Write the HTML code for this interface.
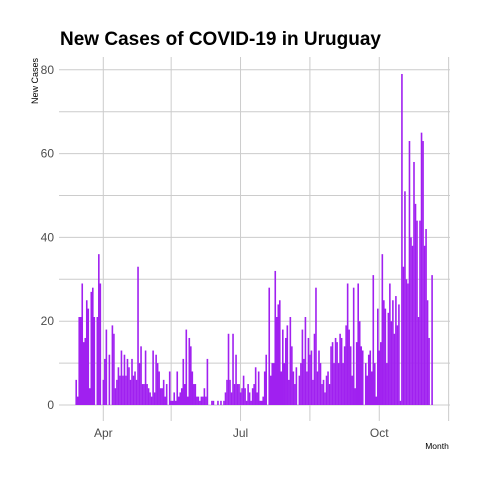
<!DOCTYPE html>
<html><head><meta charset="utf-8"><style>
body{margin:0;background:#fff;}
svg{display:block;font-family:"Liberation Sans",sans-serif;}
</style></head><body>
<svg id="chart" width="480" height="480">
<rect width="480" height="480" fill="#fff"/>
<g id="grid"></g>
<g id="bars"></g>
<g id="axes"></g>
<text x="60" y="45" font-size="19" font-weight="bold" fill="#000">New Cases of COVID-19 in Uruguay</text>
<text transform="translate(38,81) rotate(-90)" text-anchor="middle" font-size="9" fill="#000">New  Cases</text>
<text x="437" y="449" text-anchor="middle" font-size="8.5" fill="#000">Month</text>
</svg>
<script>
const startDay = -18; // days relative to Apr 1
const cases = [6,2,21,21,29,15,16,25,23,4,27,28,21,0,21,36,29,0,6,11,18,0,12,0,19,17,4,6,
9,7,13,7,12,7,11,9,6,11,7,8,6,33,
10,14,5,5,13,5,4,3,2,13,3,12,10,8,4,4,6,2,5,0,8,1,1,3,1,8,2,3,4,11,5,18,2,16,
14,8,5,5,2,2,1,2,2,4,2,11,0,0,1,1,0,0,1,0,1,0,1,3,6,17,6,3,17,5,12,5,5,3,4,7,4,1,5,3,1,4,5,9,3,8,1,1,2,8,12,0,28,7,10,10,32,21,24,25,8,18,10,16,19,6,21,14,8,5,9,0,7,10,
18,11,21,8,16,12,13,6,17,28,8,13,10,5,6,3,7,8,5,14,15,10,16,15,10,17,16,10,14,19,29,18,14,7,28,4,15,29,20,14,13,0,10,7,12,13,8,31,10,2,23,13,15,36,25,23,10,22,29,20,25,17,26,19,24,1,79,33,51,30,29,63,40,38,58,48,44,21,44,65,63,38,42,25,16,0,31];
const yTicks = [0,20,40,60,80];
const yMinor = [10,30,50,70];
const xTickLabels = ["Apr","Jul","Oct"];
const xTickDays = [0,91,183];
const xMinorDays = [-45,45,137,229];

const NS="http://www.w3.org/2000/svg";
function x(day){return 103.3+day*1.508;}
function y(v){return 405-v*4.19;}
function mk(tag,attrs,parent){const e=document.createElementNS(NS,tag);for(const k in attrs)e.setAttribute(k,attrs[k]);parent.appendChild(e);return e;}
const grid=document.getElementById('grid'),bars=document.getElementById('bars'),axes=document.getElementById('axes');
[...yTicks,...yMinor].forEach(v=>{
  const l=mk('line',{x1:59,x2:450,y1:y(v),y2:y(v),stroke:'#cccccc','stroke-width':1},grid);
  
  
});
[...xTickDays,...xMinorDays].forEach(d=>{
  const xx=x(d); if(xx<59||xx>451) return;
  const l=mk('line',{x1:xx,x2:xx,y1:57,y2:421,stroke:'#cccccc','stroke-width':1},grid);
  
  
});
cases.forEach((v,i)=>{
  if(v<=0) return;
  const d=startDay+i;
  const r=mk('rect',{x:x(d)-0.75,y:y(v),width:1.6,height:y(0)-y(v),fill:'#a020f0'},bars);
  
  
});
yTicks.forEach(v=>{
  const t=mk('text',{x:54,y:y(v)+4,'text-anchor':'end','font-size':12,fill:'#4d4d4d'},axes);
  t.textContent=v;
  
  
});
xTickLabels.forEach((s,i)=>{
  const t=mk('text',{x:x(xTickDays[i]),y:437,'text-anchor':'middle','font-size':12,fill:'#4d4d4d'},axes);
  t.textContent=s;
  
  
});
</script>
</body></html>
